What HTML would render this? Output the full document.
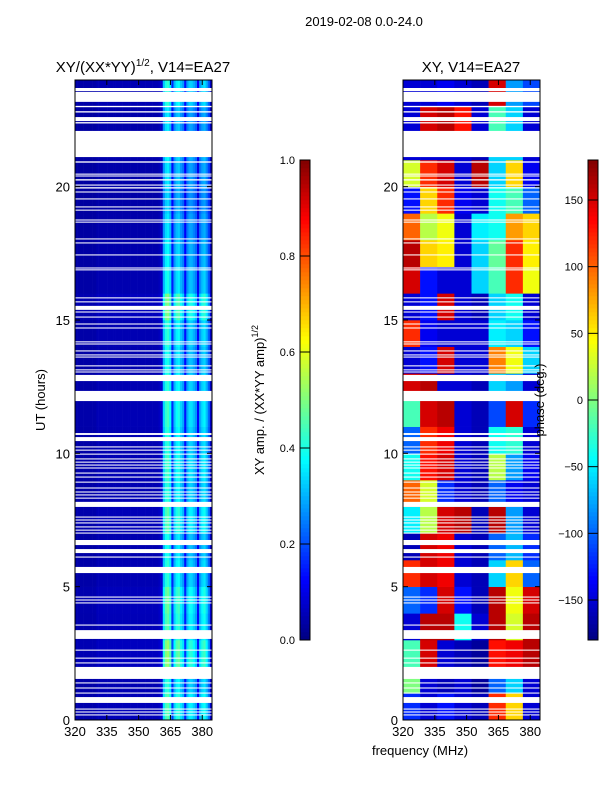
<!DOCTYPE html>
<html><head><meta charset="utf-8"><style>
html,body{margin:0;padding:0;background:#fff}
svg{display:block;font-family:"Liberation Sans",sans-serif}
</style></head><body>
<svg id="fig" width="600" height="800" viewBox="0 0 600 800" xmlns="http://www.w3.org/2000/svg">
<rect width="600" height="800" fill="#fff"/>
<text x="364" y="26" font-size="13" text-anchor="middle">2019-02-08 0.0-24.0</text>
<text x="143" y="72" font-size="15" text-anchor="middle">XY/(XX*YY)<tspan dy="-6" font-size="10">1/2</tspan><tspan dy="6">, V14=EA27</tspan></text>
<text x="471" y="72" font-size="15" text-anchor="middle">XY, V14=EA27</text>
<g id="left"></g>
<g id="right"></g>
<g id="axes"></g>
<text x="0" y="0" font-size="13" text-anchor="middle" transform="translate(45,400) rotate(-90)">UT (hours)</text>
<text x="420" y="755" font-size="13" text-anchor="middle">frequency (MHz)</text>
<text x="0" y="0" font-size="13" text-anchor="middle" transform="translate(264,400) rotate(-90)">XY amp. / (XX*YY amp)<tspan dy="-6" font-size="9">1/2</tspan></text>
</svg>
<script>
// ---- data ----
const gapHours = [[23.58,23.70],[23.18,23.55],[22.98,23.03],[22.78,22.83],[22.46,22.61],[22.37,22.42],[21.11,22.09],
[20.90,20.95],[20.45,20.49],[20.38,20.42],[20.23,20.28],[20.04,20.08],[19.93,19.98],[19.78,19.82],[19.52,19.56],[19.22,19.26],[19.10,19.14],
[18.73,18.77],[18.65,18.69],[18.02,18.06],[17.87,17.91],[17.42,17.46],[16.93,16.97],[16.86,16.90],[15.81,15.85],[15.66,15.70],[15.38,15.53],
[15.28,15.32],[15.09,15.13],[14.83,14.87],[14.68,14.72],[14.16,14.20],[14.08,14.12],[13.82,13.86],[13.67,13.71],[13.59,13.63],[13.26,13.30],
[13.11,13.15],[13.03,13.07],[12.71,12.94],[11.96,12.34],[10.69,10.76],[10.46,10.61],[10.22,10.26],[10.10,10.14],[9.95,9.99],[9.77,9.81],
[9.65,9.69],[9.54,9.58],[9.43,9.47],[9.24,9.28],[9.09,9.13],[8.90,8.94],[8.68,8.72],[8.53,8.57],[8.42,8.46],[8.30,8.34],[7.99,8.18],
[7.59,7.63],[7.48,7.52],[7.37,7.41],[7.22,7.26],[7.10,7.14],[6.99,7.03],[6.56,6.75],[6.26,6.41],[6.09,6.13],[5.51,5.74],[4.59,4.63],
[4.48,4.52],[4.37,4.41],[3.54,3.58],[3.04,3.37],[2.60,2.64],[2.30,2.34],[2.12,2.16],[1.54,1.99],[1.37,1.41],[1.18,1.22],[0.99,1.03],
[0.64,0.86],[0.39,0.43],[0.28,0.32],[0.17,0.21]];
const ampProfile = [0.04,0.04,0.04,0.04,0.04,0.04,0.04,0.04,0.04,0.04,0.05,0.05,0.05,0.05,0.05,0.05,0.05,0.05,0.05,0.05,
0.05,0.05,0.05,0.05,0.05,0.05,0.05,0.05,0.05,0.05,0.05,0.05,0.05,0.05,0.05,0.05,0.05,0.05,0.05,0.06,0.08,0.32,0.4,0.42,0.36,0.16,
0.3,0.36,0.38,0.32,0.28,0.14,0.28,0.33,0.33,0.3,0.26,0.12,0.28,0.33,0.35,0.3,0.22,0.07];
const ampHourScale = [1.1,1.0,1.25,1.1,1.15,1.0,0.95,1.1,1.0,1.05,1.0,1.05,1.0,0.95,1.0,1.2,0.95,0.9,0.85,0.8,0.85,0.9,0.85,1.0];
const freqStart = 320, freqEnd = 384.6;
const phaseGrid = [
[-120,-150,-130,-150,-160,120,60,-150],
[0,-150,-160,-150,-170,-100,-60,-150],
[-20,150,-150,-160,-170,130,140,160],
[-150,160,160,-40,-150,160,30,160],
[-100,-120,150,-130,-160,160,40,150],
[120,150,140,-150,-160,-60,60,-100],
[-160,150,140,-150,-160,-100,-70,-120],
[-50,20,150,160,-160,160,-80,-150],
[100,30,-120,-150,-160,-100,-140,-150],
[-40,130,150,-150,-160,20,-80,-140],
[-100,120,140,-150,-160,-40,-30,-150],
[-20,150,160,-150,-160,-110,150,-120],
[150,160,-150,-150,-160,-60,-80,-150],
[-150,-130,150,-150,-150,90,40,-60],
[120,-140,-150,-150,-150,-50,-60,-130],
[-150,-130,150,-150,-160,-60,-40,-150],
[150,-130,-150,-150,-60,-20,120,40],
[160,60,50,-150,-60,-10,120,50],
[100,20,40,-150,-50,-40,80,60],
[-130,60,120,-140,-150,-40,-20,-100],
[30,120,150,-150,160,-60,60,-140],
[-150,-150,-150,-150,-160,-60,-60,-150],
[-150,150,160,130,-150,-20,-60,-150],
[-150,-150,-140,-150,-160,150,-80,-110]];
const yTicks = [0,5,10,15,20];
const xTicks = [320,335,350,365,380];
const ampTicks = [0.0,0.2,0.4,0.6,0.8,1.0];
const phaseTicks = [-150,-100,-50,0,50,100,150];

// ---- helpers ----
const NS="http://www.w3.org/2000/svg";
const PT=80,PB=720;
function yH(h){return PB-(PB-PT)*h/24;}
function xF(left,f){return left+(f-freqStart)*(137/(freqEnd-freqStart));}
function jet(v){v=Math.max(0,Math.min(1,v));const c=t=>Math.round(255*Math.max(0,Math.min(1,1.5-Math.abs(t))));
return `rgb(${c(4*v-3)},${c(4*v-2)},${c(4*v-1)})`;}
function mk(tag,attrs,parent){const e=document.createElementNS(NS,tag);for(const k in attrs)e.setAttribute(k,attrs[k]);parent.appendChild(e);return e;}
const L=document.getElementById('left'),R=document.getElementById('right'),A=document.getElementById('axes');

// left heatmap
const nCh=ampProfile.length, chW=(freqEnd-freqStart)/nCh;
for(let h=0;h<24;h++){for(let c=0;c<nCh;c++){
  const f0=freqStart+c*chW,x0=xF(75,f0),x1=xF(75,f0+chW);
  const r=mk('rect',{x:x0,y:yH(h+1),width:x1-x0+0.3,height:yH(h)-yH(h+1)+0.3,fill:jet(ampProfile[c]*ampHourScale[h])},L);
  
  
}}
// right heatmap
const nB=phaseGrid[0].length,bW=(freqEnd-freqStart)/nB;
for(let h=0;h<24;h++){for(let b=0;b<nB;b++){
  const x0=xF(403,freqStart+b*bW),x1=xF(403,freqStart+(b+1)*bW);
  const r=mk('rect',{x:x0,y:yH(h+1),width:x1-x0+0.3,height:yH(h)-yH(h+1)+0.3,fill:jet((phaseGrid[h][b]+180)/360)},R);
  
  
}}
// gaps
for(const g of gapHours){for(const left of [75,403]){
  const r=mk('rect',{x:left,y:yH(g[1]),width:137,height:Math.max(1,yH(g[0])-yH(g[1])),fill:'#fff'},left===75?L:R);
  
  
}}
// axes frames & ticks
for(const left of [75,403]){
  const fr=mk('rect',{x:left,y:PT,width:137,height:PB-PT,fill:'none',stroke:'#000','stroke-width':1},A);
  
  
  for(const t of yTicks){const y=yH(t);
    mk('line',{x1:left,x2:left+5,y1:y,y2:y,stroke:'#000'},A);
    mk('line',{x1:left+137,x2:left+132,y1:y,y2:y,stroke:'#000'},A);
    const tx=mk('text',{x:left-5,y:y+5,'font-size':13,'text-anchor':'end'},A);tx.textContent=t;
    
    }
  for(const t of xTicks){const x=xF(left,t);
    mk('line',{x1:x,x2:x,y1:PB,y2:PB-5,stroke:'#000'},A);
    mk('line',{x1:x,x2:x,y1:PT,y2:PT+5,stroke:'#000'},A);
    const tx=mk('text',{x:x,y:PB+16,'font-size':13,'text-anchor':'middle'},A);tx.textContent=t;
    
    }
}
// colorbars
function colorbar(x,name,ticks,tmin,tmax,fmt){
  const g=mk('g',{},A);
  const n=120;for(let i=0;i<n;i++){mk('rect',{x:x,y:640-(i+1)*4,width:10,height:4.3,fill:jet((i+0.5)/n)},g);}
  mk('rect',{x:x,y:160,width:10,height:480,fill:'none',stroke:'#000'},g);
  for(const t of ticks){const y=640-480*(t-tmin)/(tmax-tmin);
    mk('line',{x1:x,x2:x+10,y1:y,y2:y,stroke:'#000'},g);
    const tx=mk('text',{x:x-5,y:y+4,'font-size':11,'text-anchor':'end'},g);tx.textContent=fmt(t);
    
    }
}
colorbar(300,'amp-colorbar',ampTicks,0,1,t=>t.toFixed(1));
colorbar(588,'phase-colorbar',phaseTicks,-180,180,t=>t<0?'\u2212'+(-t):String(t));
const pl=mk('text',{x:0,y:0,'font-size':13,'text-anchor':'middle',transform:'translate(544,400) rotate(-90)'},A);
pl.textContent='phase (deg.)';


</script>
</body></html>
